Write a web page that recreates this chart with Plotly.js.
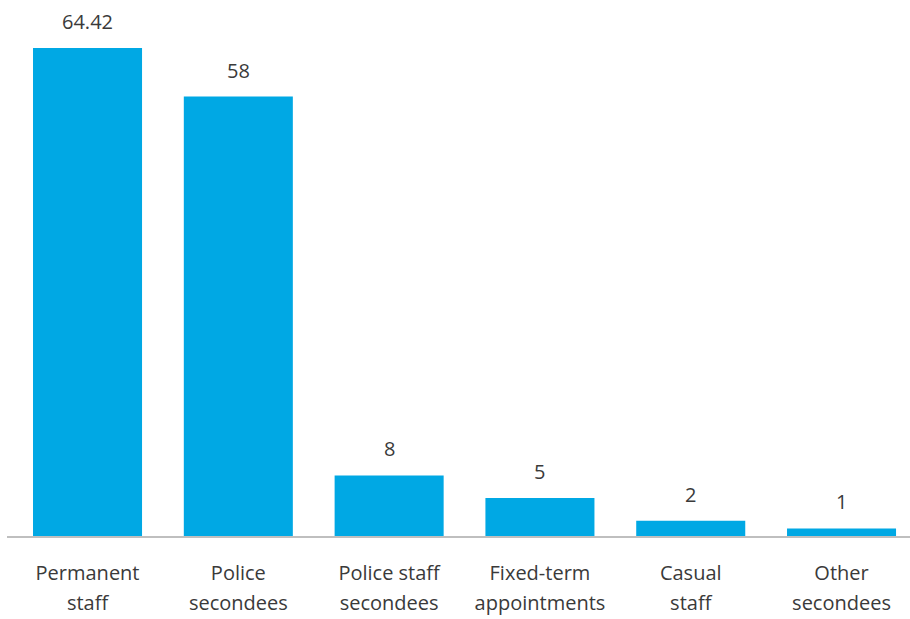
<!DOCTYPE html>
<html>
<head>
<meta charset="utf-8">
<script src="https://cdn.plot.ly/plotly-3.0.1.min.js"></script>
<style>html,body{margin:0;padding:0;background:#fff;}#chart{width:910px;height:619px;}</style>
</head>
<body>
<div id="chart"></div>
<script>
const categories = ["Permanent staff", "Police secondees", "Police staff secondees", "Fixed-term appointments", "Casual staff", "Other secondees"];
const tickLines = [["Permanent", "staff"], ["Police", "secondees"], ["Police staff", "secondees"], ["Fixed-term", "appointments"], ["Casual", "staff"], ["Other", "secondees"]];
const values = [64.42, 58, 8, 5, 2, 1];
const valueLabels = ["64.42", "58", "8", "5", "2", "1"];

const FONT = "Open Sans, Noto Sans, sans-serif";
const TXT = "#3a3a3a";

const tickText = tickLines.map(l => l.map(s => '<span style="font-size:20px">' + s + '</span>').join("<br>"));

const trace = {
  type: "bar",
  x: categories,
  y: values,
  marker: {color: "#00a8e4"},
  hoverinfo: "none"
};

const annotations = categories.map((c, i) => ({
  x: c, y: values[i], xref: "x", yref: "y",
  text: valueLabels[i], showarrow: false,
  yanchor: "bottom", yshift: 11,
  font: {family: FONT, size: 20, color: TXT}
}));

const layout = {
  width: 910, height: 619,
  margin: {l: 7, r: 0, t: 20, b: 82.5},
  paper_bgcolor: "#ffffff",
  plot_bgcolor: "#ffffff",
  showlegend: false,
  bargap: 0.277,
  xaxis: {
    type: "category",
    range: [-0.534, 5.454],
    tickvals: categories,
    ticktext: tickText,
    showline: true, linecolor: "#bfbfbf", linewidth: 2,
    ticks: "", showgrid: false, zeroline: false,
    tickfont: {family: FONT, size: 23, color: TXT},
    ticklabelstandoff: 14
  },
  yaxis: {
    range: [0, 68.11],
    visible: false, showgrid: false, zeroline: false
  },
  annotations: annotations
};

Plotly.newPlot("chart", [trace], layout, {displayModeBar: false, staticPlot: true});
</script>
</body>
</html>
